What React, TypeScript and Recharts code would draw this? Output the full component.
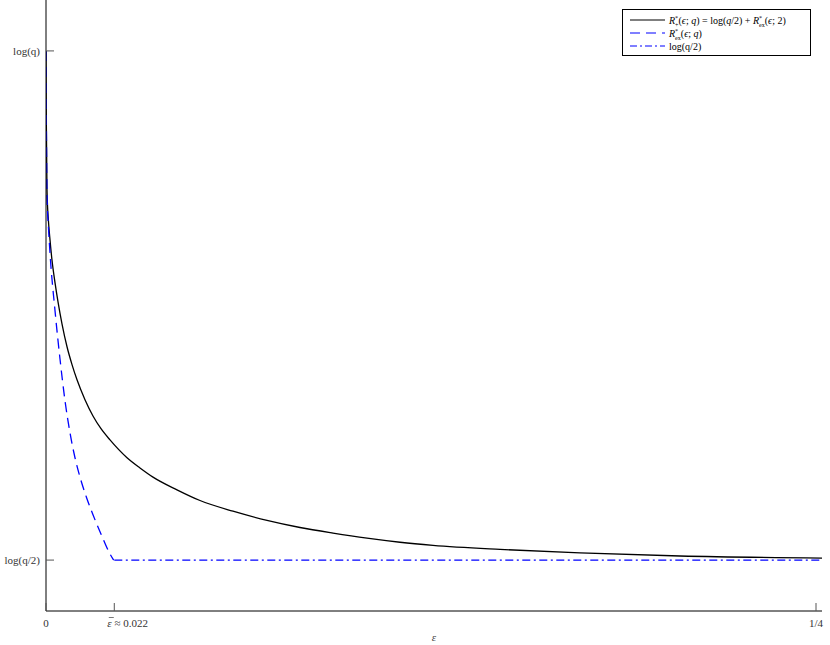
import React from "react";
import { LineChart, Line, XAxis, YAxis } from "recharts";

// Values in units where log(q/2) = 0 and log(q) = 1
const upperEps = [0, 0.0001, 0.00032, 0.00081, 0.00129, 0.00193, 0.0029, 0.00387, 0.00515, 0.00677, 0.00838, 0.00999, 0.01256, 0.01514, 0.01772, 0.02062, 0.0261, 0.03028, 0.03447, 0.0422, 0.04961, 0.06024, 0.0712, 0.08183, 0.09246, 0.10342, 0.11405, 0.12468, 0.14626, 0.17204, 0.20425, 0.25];
const upperVal = [1.0, 0.864, 0.727, 0.664, 0.629, 0.589, 0.545, 0.507, 0.464, 0.419, 0.384, 0.354, 0.315, 0.283, 0.258, 0.236, 0.201, 0.181, 0.163, 0.138, 0.117, 0.096, 0.078, 0.064, 0.053, 0.043, 0.035, 0.029, 0.021, 0.014, 0.008, 0.004];
const exEps = [0, 0.00032, 0.00081, 0.00129, 0.0029, 0.00451, 0.00612, 0.00773, 0.00934, 0.01095, 0.01305, 0.01514, 0.01788, 0.02062, 0.0218];
const exVal = [1.0, 0.717, 0.652, 0.603, 0.49, 0.395, 0.313, 0.25, 0.201, 0.163, 0.123, 0.089, 0.049, 0.012, 0];
const flatEps = [0.022, 0.25];
const flatVal = [0, 0];

const xTicks = [0, 0.022, 0.25];
const xTickLabels = ["0", "ε ≈ 0.022", "1/4"];
const yTicks = [0, 1];
const yTickLabels = ["log(q/2)", "log(q)"];

const zip = (xs: number[], ys: number[]) => xs.map((x, i) => ({ x, y: ys[i] }));
const upperData = zip(upperEps, upperVal);
const exData = zip(exEps, exVal);
const flatData = zip(flatEps, flatVal);

const FONT = "'Liberation Serif', 'DejaVu Serif', serif";

const XTick = (props: any) => {
  const { x, y, payload } = props;
  const idx = xTicks.indexOf(payload.value);
  const label = xTickLabels[idx];
  if (idx === 1) {
    return (
      <g>
        <line x1={x} y1={y} x2={x} y2={y - 8} stroke="#555" strokeWidth={1} />
        <line x1={x - 5.5} y1={y + 6.5} x2={x - 0.5} y2={y + 6.5} stroke="#555" strokeWidth={0.8} />
        <text x={x - 7} y={y + 16} textAnchor="start" fontFamily={FONT} fontSize={11} fill="#333">
          <tspan fontStyle="italic">ε</tspan>
          <tspan> ≈ 0.022</tspan>
        </text>
      </g>
    );
  }
  return (
    <g>
      <line x1={x} y1={y} x2={x} y2={y - 8} stroke="#555" strokeWidth={1} />
      <text x={x} y={y + 16} textAnchor="middle" fontFamily={FONT} fontSize={11} fill="#333">
        {label}
      </text>
    </g>
  );
};

const YTick = (props: any) => {
  const { x, y, payload } = props;
  const idx = yTicks.indexOf(payload.value);
  return (
    <g>
      <line x1={x} y1={y} x2={x + 8} y2={y} stroke="#555" strokeWidth={1} />
      <text x={x - 6} y={y + 4} textAnchor="end" fontFamily={FONT} fontSize={11} fill="#333">
        {yTickLabels[idx]}
      </text>
    </g>
  );
};

const LegendBox = () => (
  <svg width={830} height={645} style={{ position: "absolute", left: 0, top: 0, pointerEvents: "none" }}>
    <rect x={622.5} y={9.5} width={188} height={46} fill="#fff" stroke="#000" strokeWidth={1} />
    <line x1={630} y1={20} x2={665} y2={20} stroke="#000" strokeWidth={1.2} />
    <line x1={630} y1={33} x2={665} y2={33} stroke="#0000ff" strokeWidth={1.2} strokeDasharray="10 6" />
    <line x1={630} y1={46} x2={665} y2={46} stroke="#0000ff" strokeWidth={1.2} strokeDasharray="7 3 2 3" />
    <text x={669} y={23.5} fontFamily={FONT} fontSize={10} fill="#000">
      <tspan fontStyle="italic">R</tspan>
      <tspan fontSize={6} dy={-4}>*</tspan>
      <tspan fontSize={6} dx={-3} dy={7}>+</tspan>
      <tspan dy={-3}>(</tspan>
      <tspan fontStyle="italic">ϵ</tspan>
      <tspan>; </tspan>
      <tspan fontStyle="italic">q</tspan>
      <tspan>) = log(</tspan>
      <tspan fontStyle="italic">q</tspan>
      <tspan>/2) + </tspan>
      <tspan fontStyle="italic">R</tspan>
      <tspan fontSize={6} dy={-4}>*</tspan>
      <tspan fontSize={6} dx={-3} dy={7}>ex</tspan>
      <tspan dy={-3}>(</tspan>
      <tspan fontStyle="italic">ϵ</tspan>
      <tspan>; 2)</tspan>
    </text>
    <text x={669} y={36.5} fontFamily={FONT} fontSize={10} fill="#000">
      <tspan fontStyle="italic">R</tspan>
      <tspan fontSize={6} dy={-4}>*</tspan>
      <tspan fontSize={6} dx={-3} dy={7}>ex</tspan>
      <tspan dy={-3}>(</tspan>
      <tspan fontStyle="italic">ϵ</tspan>
      <tspan>; </tspan>
      <tspan fontStyle="italic">q</tspan>
      <tspan>)</tspan>
    </text>
    <text x={669} y={49.5} fontFamily={FONT} fontSize={10} fill="#000">
      log(q/2)
    </text>
    <text x={434} y={641} textAnchor="middle" fontFamily={FONT} fontSize={11} fontStyle="italic" fill="#444">
      ε
    </text>
  </svg>
);

export default function App() {
  return (
    <div style={{ position: "absolute", left: 0, top: 0, width: 830, height: 645, background: "#fff" }}>
      <LineChart width={830} height={645} margin={{ top: 0, right: 8, bottom: 0, left: 0 }}>
        <XAxis
          type="number"
          dataKey="x"
          domain={[0, 0.25]}
          ticks={xTicks}
          tick={<XTick />}
          tickLine={false}
          tickSize={0}
          tickMargin={0}
          height={34}
          axisLine={{ stroke: "#000", strokeWidth: 1 }}
          allowDataOverflow
        />
        <YAxis
          type="number"
          dataKey="y"
          domain={[-0.1, 1.1]}
          ticks={yTicks}
          tick={<YTick />}
          tickLine={false}
          tickSize={0}
          tickMargin={0}
          width={46}
          axisLine={{ stroke: "#000", strokeWidth: 1 }}
          allowDataOverflow
        />
        <Line data={upperData} dataKey="y" type="monotone" stroke="#000" strokeWidth={1.3} dot={false} isAnimationActive={false} />
        <Line data={exData} dataKey="y" type="monotone" stroke="#0000ff" strokeWidth={1.3} strokeDasharray="10 6" dot={false} isAnimationActive={false} />
        <Line data={flatData} dataKey="y" type="linear" stroke="#0000ff" strokeWidth={1.3} strokeDasharray="8 3.5 2 3.5" dot={false} isAnimationActive={false} />
      </LineChart>
      <LegendBox />
    </div>
  );
}
